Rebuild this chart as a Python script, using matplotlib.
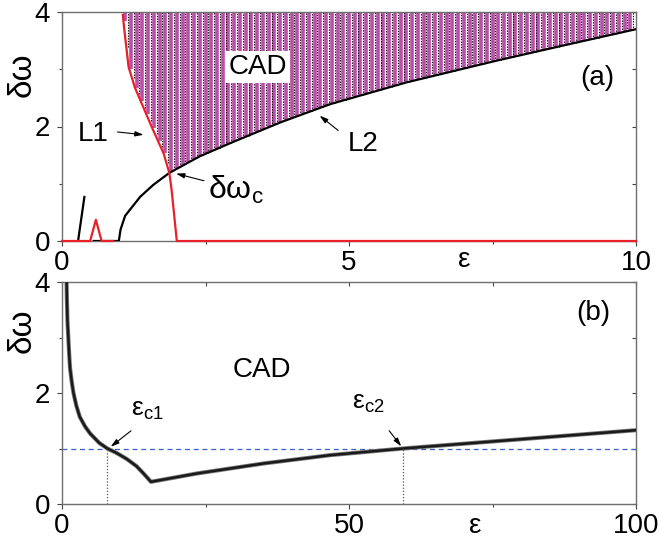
import numpy as np
import matplotlib
matplotlib.use('Agg')
import matplotlib.pyplot as plt
from matplotlib.ticker import MultipleLocator

plt.rcParams['font.family'] = ['Liberation Sans', 'DejaVu Sans']
plt.rcParams['mathtext.fontset'] = 'custom'
plt.rcParams['mathtext.rm'] = 'Liberation Sans'
plt.rcParams['mathtext.it'] = 'Liberation Sans'
plt.rcParams['mathtext.default'] = 'regular'

# ---------------- data: panel (a) ----------------
red_low_eps = [0.0, 0.49, 0.59, 0.69, 0.89]
red_low_dw = [0.0, 0.0, 0.37, 0.0, 0.0]
L1_eps = [1.06, 1.08, 1.16, 1.27, 1.36, 1.56, 1.77, 1.87, 1.91, 2.0, 10.0]
L1_dw = [3.95, 3.74, 3.04, 2.68, 2.47, 2.0, 1.53, 1.19, 0.89, 0.0, 0.0]
spike_eps = [0.28, 0.39]
spike_dw = [0.0, 0.77]
L2_eps = [0.55, 0.99, 1.02, 1.10, 1.36, 1.59, 1.87, 2.4, 2.98, 3.8, 4.67, 6.0, 7.57, 8.8, 10.0]
L2_dw = [0.0, 0.0, 0.2, 0.44, 0.77, 0.98, 1.19, 1.48, 1.73, 2.07, 2.39, 2.77, 3.15, 3.43, 3.70]
cad_eps = np.round(np.arange(1.1, 10.0, 0.1), 2)   # sampling columns of the CAD region

# ---------------- data: panel (b) ----------------
b_eps = [0.8, 0.85, 0.95, 1.1, 1.25, 1.4, 1.7, 2.0, 2.5, 3.1, 4.0, 4.9, 6.5, 7.9, 9.5,
         11.3, 13.0, 14.2, 15.5, 23.5, 35.1, 46.7, 59.4, 100.0]
b_dw = [4.0, 3.7, 3.3, 3.0, 2.7, 2.45, 2.2, 2.0, 1.77, 1.57, 1.40, 1.27, 1.1, 1.0, 0.92,
        0.81, 0.68, 0.55, 0.40, 0.55, 0.73, 0.88, 1.0, 1.33]
eps_c1 = 7.9
eps_c2 = 59.4
dw_ref = 1.0

W, H = 659, 545
fig = plt.figure(figsize=(W / 100, H / 100), dpi=100)
axA = fig.add_axes([62 / W, 1 - 241 / H, 574 / W, 229 / H])
axB = fig.add_axes([62 / W, 1 - 504 / H, 574 / W, 222 / H])

spine_c = '#6e6e6e'
tick_fs = 20
text_fs = 20
magenta = '#b94fa7'
arrow = dict(arrowstyle='-|>,head_length=0.5,head_width=0.15', color='black', lw=0.8)


def style(ax, xmaj, xmin, xlim):
    ax.set_xlim(*xlim)
    ax.set_ylim(0, 4)
    for s in ax.spines.values():
        s.set_color(spine_c)
        s.set_linewidth(1.0)
    ax.xaxis.set_major_locator(MultipleLocator(xmaj))
    ax.xaxis.set_minor_locator(MultipleLocator(xmin))
    ax.yaxis.set_major_locator(MultipleLocator(2))
    ax.yaxis.set_minor_locator(MultipleLocator(1))
    ax.tick_params(which='both', direction='out', color='#444444', labelsize=tick_fs,
                   top=False, right=False)
    ax.tick_params(which='major', length=3.5, width=0.8)
    ax.tick_params(which='minor', length=2.5, width=0.8)
    ax.tick_params(axis='x', pad=3)
    ax.tick_params(axis='y', pad=5)
    secx = ax.secondary_xaxis('top')
    secx.xaxis.set_major_locator(MultipleLocator(xmin))
    secx.tick_params(direction='in', length=3, width=0.8, color='#444444', labeltop=False)
    secx.spines['top'].set_visible(False)
    secy = ax.secondary_yaxis('right')
    secy.yaxis.set_major_locator(MultipleLocator(1))
    secy.tick_params(direction='in', length=3, width=0.8, color='#444444', labelright=False)
    secy.spines['right'].set_visible(False)


# ---------------- panel (a) ----------------
style(axA, 5, 2.5, (0, 10))
bottoms = np.maximum(np.interp(cad_eps - 0.03, L1_eps[:8], L1_dw[:8]),
                     np.interp(cad_eps, L2_eps, L2_dw))
dot_x = cad_eps + 0.05
dot_bottoms = np.maximum(np.interp(dot_x - 0.03, L1_eps[:8], L1_dw[:8]),
                         np.interp(dot_x, L2_eps, L2_dw))
axA.vlines(cad_eps, bottoms, 4.05, color=magenta, lw=2.6, zorder=2)
axA.vlines(dot_x, dot_bottoms, 4.05, color='black', lw=0.8,
           linestyles=(0, (1.2, 1.2)), zorder=2)
axA.plot(L2_eps, L2_dw, color='black', lw=1.6, zorder=3)
axA.plot(spike_eps, spike_dw, color='black', lw=1.6, zorder=3)
axA.plot(red_low_eps, red_low_dw, color='#e8202a', lw=1.6, zorder=4, clip_on=False)
axA.plot(L1_eps, L1_dw, color='#e8202a', lw=1.6, zorder=4, clip_on=False)

axA.text(3.41, 3.04, 'CAD', fontsize=text_fs, ha='center', va='center', zorder=5,
         bbox=dict(facecolor='white', edgecolor='none', pad=2))
axA.text(9.32, 2.85, '(a)', fontsize=text_fs, ha='center', va='center')
axA.text(0.54, 1.87, 'L1', fontsize=text_fs, ha='center', va='center')
axA.annotate('', xy=(1.47, 1.85), xytext=(0.92, 1.91), arrowprops=arrow)
axA.text(5.24, 1.69, 'L2', fontsize=text_fs, ha='center', va='center')
axA.annotate('', xy=(4.45, 2.22), xytext=(4.85, 1.9), arrowprops=arrow)
axA.text(2.55, 0.89, r'$δω_c$', fontsize=23, ha='left', va='center')
axA.annotate('', xy=(1.94, 1.19), xytext=(2.52, 1.04), arrowprops=arrow)
axA.set_ylabel('δω', fontsize=24)
axA.yaxis.set_label_coords(-0.042, 0.725)
axA.set_xlabel('ε', fontsize=20, va='baseline')
axA.xaxis.set_label_coords(0.70, -0.113)

# ---------------- panel (b) ----------------
style(axB, 50, 25, (0, 100))
axB.axhline(dw_ref, color='#3a5fcd', lw=0.9, ls=(0, (4, 3)), zorder=2)
axB.plot([eps_c1, eps_c1], [0, dw_ref], color='#555555', lw=0.9, ls=(0, (1, 1.5)))
axB.plot([eps_c2, eps_c2], [0, dw_ref], color='#555555', lw=0.9, ls=(0, (1, 1.5)))
axB.plot(b_eps, b_dw, color='#777777', lw=3.0, zorder=3, solid_capstyle='butt')
axB.plot(b_eps, b_dw, color='#1a1a1a', lw=1.8, zorder=4, solid_capstyle='butt')
axB.text(34.8, 2.41, 'CAD', fontsize=text_fs, ha='center', va='center')
axB.text(92.5, 3.44, '(b)', fontsize=text_fs, ha='center', va='center')
axB.text(12.0, 1.7, r'$ε_{c1}$', fontsize=19, ha='left', va='center')
axB.annotate('', xy=(8.1, 1.0), xytext=(12.4, 1.35), arrowprops=arrow)
axB.text(50.5, 1.82, r'$ε_{c2}$', fontsize=19, ha='left', va='center')
axB.annotate('', xy=(59.4, 1.0), xytext=(56.7, 1.36), arrowprops=arrow)
axB.set_ylabel('δω', fontsize=24)
axB.yaxis.set_label_coords(-0.042, 0.78)
axB.set_xlabel('ε', fontsize=20, va='baseline')
axB.xaxis.set_label_coords(0.72, -0.13)

fig.savefig('out.png', dpi=100)
